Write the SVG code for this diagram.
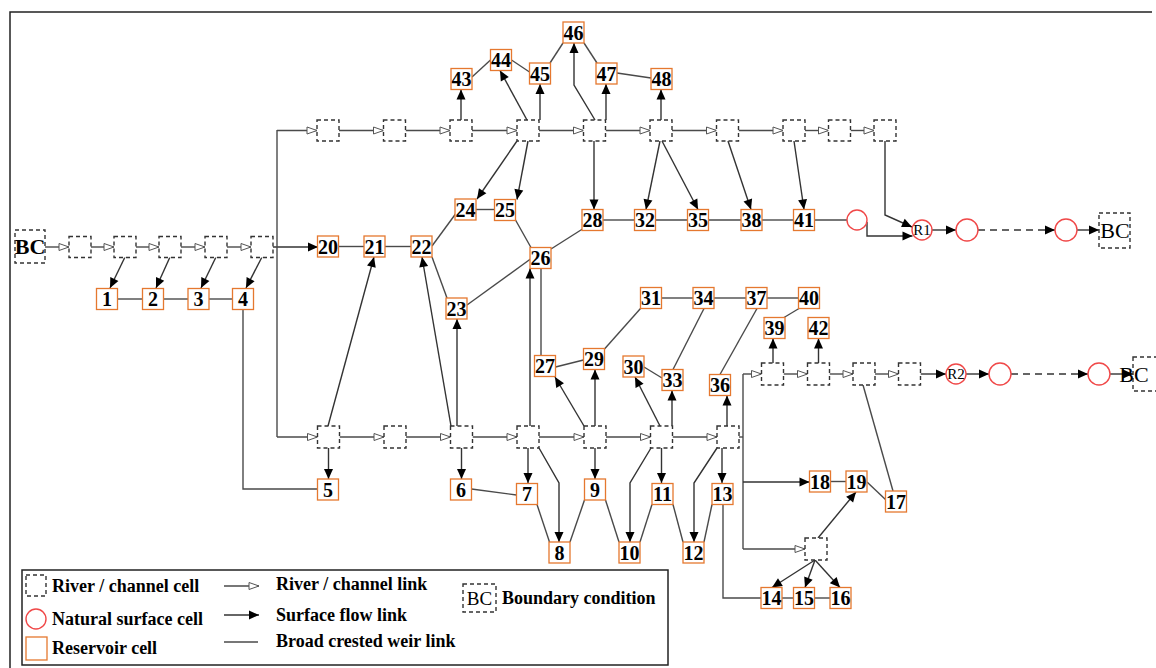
<svg xmlns="http://www.w3.org/2000/svg" width="1156" height="668" viewBox="0 0 1156 668">
<style>
.res rect{fill:#fff;stroke:#E5782F;stroke-width:1.3}
.riv{fill:#fff;stroke:#333;stroke-width:1.4;stroke-dasharray:4 3}
.nat{fill:#fff;stroke:#F04848;stroke-width:1.4}
.lbl{font-family:"Liberation Serif",serif;font-weight:bold;font-size:20px;text-anchor:middle;fill:#000}
.rl{font-family:"Liberation Serif",serif;font-size:15px;text-anchor:middle;fill:#000}
.bc{font-family:"Liberation Serif",serif;font-size:22px;text-anchor:middle;fill:#000}
.leg{font-family:"Liberation Serif",serif;font-weight:bold;font-size:18px;fill:#000}
.ch{stroke:#4a4a4a;stroke-width:1.4;fill:none;marker-end:url(#ha)}
.sf{stroke:#333;stroke-width:1.4;fill:none;marker-end:url(#fa)}
.sfd{stroke:#333;stroke-width:1.4;fill:none;stroke-dasharray:7 5;marker-end:url(#fa)}
.wr{stroke:#4a4a4a;stroke-width:1.4;fill:none}
</style>
<defs>
<marker id="fa" viewBox="0 0 10 10" refX="10" refY="5" markerWidth="11" markerHeight="10" markerUnits="userSpaceOnUse" orient="auto"><path d="M0,0.5 L10,5 L0,9.5 z" fill="#000"/></marker>
<marker id="ha" viewBox="0 0 12 10" refX="11" refY="5" markerWidth="12" markerHeight="10" markerUnits="userSpaceOnUse" orient="auto"><path d="M1,1.5 L11,5 L1,8.5 z" fill="#fff" stroke="#555" stroke-width="1"/></marker>
</defs>
<rect width="1156" height="668" fill="#fff"/>
<path d="M10,668 V12 H1152" fill="none" stroke="#222" stroke-width="1.5"/>

<g id="connectors">
<line class="ch" x1="45" y1="247" x2="69" y2="247"/>
<line class="ch" x1="91" y1="247" x2="114" y2="247"/>
<line class="ch" x1="136" y1="247" x2="159" y2="247"/>
<line class="ch" x1="181" y1="247" x2="205" y2="247"/>
<line class="ch" x1="227" y1="247" x2="251" y2="247"/>
<line class="sf" x1="273" y1="247" x2="318" y2="247"/>
<line class="wr" x1="277" y1="130" x2="277" y2="437"/>
<line class="ch" x1="277" y1="130.5" x2="317" y2="130.5"/>
<line class="ch" x1="277" y1="437" x2="317.5" y2="437"/>
<line class="sf" x1="125" y1="257" x2="110" y2="288"/>
<line class="sf" x1="170" y1="257" x2="156" y2="288"/>
<line class="sf" x1="216" y1="257" x2="201" y2="288"/>
<line class="sf" x1="262" y1="257" x2="246" y2="288"/>
<line class="wr" x1="117.5" y1="299" x2="142.5" y2="299"/>
<line class="wr" x1="163.5" y1="299" x2="188" y2="299"/>
<line class="wr" x1="209" y1="299" x2="232.5" y2="299"/>
<polyline class="wr" points="243,309.5 243,489 317.5,489"/>
<line class="ch" x1="339" y1="130.5" x2="383.5" y2="130.5"/>
<line class="ch" x1="405.5" y1="130.5" x2="450" y2="130.5"/>
<line class="ch" x1="472" y1="130.5" x2="517" y2="130.5"/>
<line class="ch" x1="539" y1="130.5" x2="583.5" y2="130.5"/>
<line class="ch" x1="605.5" y1="130.5" x2="650" y2="130.5"/>
<line class="ch" x1="672" y1="130.5" x2="716.5" y2="130.5"/>
<line class="ch" x1="738.5" y1="130.5" x2="783" y2="130.5"/>
<line class="ch" x1="805" y1="130.5" x2="828.5" y2="130.5"/>
<line class="ch" x1="850.5" y1="130.5" x2="874" y2="130.5"/>
<line class="sf" x1="461" y1="120" x2="461" y2="89.5"/>
<line class="sf" x1="527" y1="120" x2="500" y2="70.5"/>
<line class="sf" x1="540" y1="120" x2="540" y2="84"/>
<polyline class="sf" points="595,120 574,85 574,43"/>
<line class="sf" x1="606" y1="120" x2="606" y2="84"/>
<line class="sf" x1="661" y1="120" x2="661" y2="89.5"/>
<line class="wr" x1="472" y1="77" x2="490.5" y2="60"/>
<line class="wr" x1="511.5" y1="60" x2="529.5" y2="72"/>
<line class="wr" x1="550" y1="63" x2="563" y2="43"/>
<line class="wr" x1="584" y1="43" x2="597" y2="63"/>
<line class="wr" x1="617" y1="73" x2="651" y2="78"/>
<line class="sf" x1="517" y1="141" x2="477" y2="199"/>
<line class="sf" x1="528" y1="141" x2="517" y2="199.5"/>
<line class="sf" x1="594" y1="141" x2="594" y2="209.5"/>
<line class="sf" x1="660" y1="141" x2="646" y2="209.5"/>
<line class="sf" x1="662" y1="141" x2="698" y2="209.5"/>
<line class="sf" x1="728" y1="141" x2="751" y2="209.5"/>
<line class="sf" x1="794" y1="141" x2="804" y2="209.5"/>
<polyline class="sf" points="885,141 885,215 912,227"/>
<line class="wr" x1="603" y1="220" x2="634.5" y2="220"/>
<line class="wr" x1="655.5" y1="220" x2="687.5" y2="220"/>
<line class="wr" x1="708.5" y1="220" x2="741" y2="220"/>
<line class="wr" x1="762" y1="220" x2="793.5" y2="220"/>
<line class="wr" x1="814.5" y1="220" x2="847" y2="220"/>
<polyline class="sf" points="867,222 867,236 912.5,236"/>
<line class="sf" x1="932" y1="230" x2="956" y2="230"/>
<line class="sfd" x1="978" y1="230" x2="1055" y2="230"/>
<line class="sf" x1="1077" y1="230" x2="1099" y2="230"/>
<line class="wr" x1="338.5" y1="246.5" x2="364" y2="246.5"/>
<line class="wr" x1="385" y1="246.5" x2="411" y2="246.5"/>
<line class="wr" x1="476" y1="209.5" x2="494.5" y2="209.5"/>
<line class="wr" x1="432" y1="246" x2="455.5" y2="214"/>
<line class="wr" x1="515.5" y1="220" x2="531" y2="247.5"/>
<line class="wr" x1="551" y1="249" x2="582.5" y2="229"/>
<line class="wr" x1="432" y1="257" x2="447" y2="298"/>
<line class="wr" x1="467" y1="305" x2="530.5" y2="259"/>
<line class="wr" x1="541" y1="268.5" x2="541" y2="355.5"/>
<line class="wr" x1="555.5" y1="367" x2="583.5" y2="360"/>
<line class="wr" x1="604.5" y1="349" x2="640.5" y2="308.5"/>
<line class="wr" x1="661.5" y1="298" x2="693" y2="298"/>
<line class="wr" x1="714" y1="298" x2="746" y2="298"/>
<line class="wr" x1="767" y1="298" x2="798.5" y2="298"/>
<line class="wr" x1="673" y1="369.5" x2="704" y2="308.5"/>
<line class="wr" x1="644" y1="367" x2="662" y2="378"/>
<line class="wr" x1="720" y1="374.5" x2="757" y2="308.5"/>
<line class="wr" x1="799" y1="308.5" x2="784" y2="317.5"/>
<line class="ch" x1="339.5" y1="437" x2="384" y2="437"/>
<line class="ch" x1="406" y1="437" x2="450.5" y2="437"/>
<line class="ch" x1="472.5" y1="437" x2="517" y2="437"/>
<line class="ch" x1="539" y1="437" x2="584" y2="437"/>
<line class="ch" x1="606" y1="437" x2="650.5" y2="437"/>
<line class="ch" x1="672.5" y1="437" x2="717" y2="437"/>
<line class="sf" x1="328" y1="426" x2="374" y2="257"/>
<line class="sf" x1="451" y1="426" x2="422" y2="257"/>
<line class="sf" x1="457" y1="426" x2="457" y2="319"/>
<line class="sf" x1="530" y1="426" x2="530" y2="268.5"/>
<line class="sf" x1="584" y1="426" x2="555" y2="377"/>
<line class="sf" x1="595" y1="426" x2="595" y2="369.5"/>
<line class="sf" x1="660" y1="426" x2="635" y2="377"/>
<line class="sf" x1="672" y1="426" x2="672" y2="390.5"/>
<line class="sf" x1="727" y1="426" x2="727" y2="395.5"/>
<line class="sf" x1="328.5" y1="448" x2="328.5" y2="479"/>
<line class="sf" x1="461.5" y1="448" x2="461.5" y2="479"/>
<line class="sf" x1="528" y1="448" x2="528" y2="483"/>
<line class="sf" x1="595" y1="448" x2="595" y2="479"/>
<line class="sf" x1="661.5" y1="448" x2="661.5" y2="483"/>
<line class="sf" x1="722" y1="448" x2="722" y2="483"/>
<polyline class="sf" points="539,448 559,483 559,542"/>
<polyline class="sf" points="651,448 630,483 630,542"/>
<polyline class="sf" points="717,448 694,483 694,542"/>
<line class="wr" x1="471.5" y1="489" x2="516.5" y2="495"/>
<line class="wr" x1="537" y1="504.5" x2="549.5" y2="542"/>
<line class="wr" x1="570" y1="542" x2="584.5" y2="500"/>
<line class="wr" x1="605.5" y1="500" x2="619" y2="542"/>
<line class="wr" x1="640" y1="542" x2="652" y2="504.5"/>
<line class="wr" x1="673" y1="504.5" x2="683" y2="542"/>
<line class="wr" x1="704" y1="542" x2="712" y2="504.5"/>
<polyline class="wr" points="723,504.5 723,598 761,598"/>
<line class="wr" x1="739" y1="437" x2="743" y2="437"/>
<line class="wr" x1="743" y1="374" x2="743" y2="549"/>
<line class="ch" x1="743" y1="374" x2="761.5" y2="374"/>
<line class="sf" x1="743" y1="482" x2="809.5" y2="482"/>
<line class="ch" x1="743" y1="549" x2="805" y2="549"/>
<line class="ch" x1="783.5" y1="374" x2="807.5" y2="374"/>
<line class="ch" x1="829.5" y1="374" x2="853" y2="374"/>
<line class="ch" x1="875" y1="374" x2="898.5" y2="374"/>
<line class="sf" x1="773" y1="363" x2="773" y2="338.5"/>
<line class="sf" x1="818.5" y1="363" x2="818.5" y2="338.5"/>
<line class="wr" x1="863" y1="385" x2="893" y2="491"/>
<line class="sf" x1="920.5" y1="374" x2="946" y2="374"/>
<line class="sf" x1="966" y1="374" x2="989" y2="374"/>
<line class="sfd" x1="1011" y1="374" x2="1088" y2="374"/>
<line class="sf" x1="1110" y1="374" x2="1133" y2="374"/>
<line class="wr" x1="830.5" y1="481.5" x2="846" y2="481.5"/>
<line class="wr" x1="867" y1="482" x2="886" y2="500"/>
<line class="sf" x1="818" y1="538" x2="856" y2="492"/>
<line class="sf" x1="815" y1="560" x2="772" y2="587.5"/>
<line class="sf" x1="815" y1="560" x2="805" y2="587.5"/>
<line class="sf" x1="815" y1="560" x2="840" y2="587.5"/>
<line class="wr" x1="782" y1="598" x2="793.5" y2="598"/>
<line class="wr" x1="814.5" y1="598" x2="830" y2="598"/>
</g>

<g id="bc_left"><rect class="riv" x="15" y="230" width="30" height="33"/><text class="bc" x="30" y="254" font-weight="bold">BC</text></g>
<g id="bc_r1"><rect class="riv" x="1099" y="213" width="31" height="35"/><text class="bc" x="1115" y="238">BC</text></g>
<g id="bc_r2"><rect class="riv" x="1133" y="357" width="31" height="34"/><text class="bc" x="1134" y="382" text-anchor="start">BC</text></g>

<g id="rc_a1"><rect class="riv" x="69" y="236.5" width="22" height="21"/></g>
<g id="rc_a2"><rect class="riv" x="114" y="236.5" width="22" height="21"/></g>
<g id="rc_a3"><rect class="riv" x="159" y="236.5" width="22" height="21"/></g>
<g id="rc_a4"><rect class="riv" x="205" y="236.5" width="22" height="21"/></g>
<g id="rc_a5"><rect class="riv" x="251" y="236.5" width="22" height="21"/></g>
<g id="rc_t1"><rect class="riv" x="317" y="120" width="22" height="21"/></g>
<g id="rc_t2"><rect class="riv" x="383.5" y="120" width="22" height="21"/></g>
<g id="rc_t3"><rect class="riv" x="450" y="120" width="22" height="21"/></g>
<g id="rc_t4"><rect class="riv" x="517" y="120" width="22" height="21"/></g>
<g id="rc_t5"><rect class="riv" x="583.5" y="120" width="22" height="21"/></g>
<g id="rc_t6"><rect class="riv" x="650" y="120" width="22" height="21"/></g>
<g id="rc_t7"><rect class="riv" x="716.5" y="120" width="22" height="21"/></g>
<g id="rc_t8"><rect class="riv" x="783" y="120" width="22" height="21"/></g>
<g id="rc_t9"><rect class="riv" x="828.5" y="120" width="22" height="21"/></g>
<g id="rc_t10"><rect class="riv" x="874" y="120" width="22" height="21"/></g>
<g id="rc_b1"><rect class="riv" x="317.5" y="426" width="22" height="22"/></g>
<g id="rc_b2"><rect class="riv" x="384" y="426" width="22" height="22"/></g>
<g id="rc_b3"><rect class="riv" x="450.5" y="426" width="22" height="22"/></g>
<g id="rc_b4"><rect class="riv" x="517" y="426" width="22" height="22"/></g>
<g id="rc_b5"><rect class="riv" x="584" y="426" width="22" height="22"/></g>
<g id="rc_b6"><rect class="riv" x="650.5" y="426" width="22" height="22"/></g>
<g id="rc_b7"><rect class="riv" x="717" y="426" width="22" height="22"/></g>
<g id="rc_r1"><rect class="riv" x="761.5" y="363" width="22" height="22"/></g>
<g id="rc_r2"><rect class="riv" x="807.5" y="363" width="22" height="22"/></g>
<g id="rc_r3"><rect class="riv" x="853" y="363" width="22" height="22"/></g>
<g id="rc_r4"><rect class="riv" x="898.5" y="363" width="22" height="22"/></g>
<g id="rc_s1"><rect class="riv" x="805" y="538" width="22" height="22"/></g>

<g id="ns_1"><circle class="nat" cx="857" cy="220" r="10"/></g>
<g id="ns_R1"><circle class="nat" cx="922" cy="230" r="10"/><text class="rl" x="922" y="235">R1</text></g>
<g id="ns_2"><circle class="nat" cx="967" cy="230" r="11"/></g>
<g id="ns_3"><circle class="nat" cx="1066" cy="230" r="11"/></g>
<g id="ns_R2"><circle class="nat" cx="956" cy="374" r="10"/><text class="rl" x="956" y="379">R2</text></g>
<g id="ns_4"><circle class="nat" cx="1000" cy="374" r="11"/></g>
<g id="ns_5"><circle class="nat" cx="1099" cy="374" r="11"/></g>

<g id="r1" class="res"><rect x="96.5" y="288.5" width="21" height="21"/><text class="lbl" x="107" y="306">1</text></g>
<g id="r2" class="res"><rect x="142.5" y="288.5" width="21" height="21"/><text class="lbl" x="153" y="306">2</text></g>
<g id="r3" class="res"><rect x="188" y="288.5" width="21" height="21"/><text class="lbl" x="198.5" y="306">3</text></g>
<g id="r4" class="res"><rect x="232.5" y="288.5" width="21" height="21"/><text class="lbl" x="243" y="306">4</text></g>
<g id="r5" class="res"><rect x="317.5" y="479" width="21" height="21"/><text class="lbl" x="328" y="496.5">5</text></g>
<g id="r6" class="res"><rect x="450.5" y="479" width="21" height="21"/><text class="lbl" x="461" y="496.5">6</text></g>
<g id="r7" class="res"><rect x="516.5" y="483.5" width="21" height="21"/><text class="lbl" x="527" y="501">7</text></g>
<g id="r8" class="res"><rect x="549" y="542" width="21" height="21"/><text class="lbl" x="559.5" y="559.5">8</text></g>
<g id="r9" class="res"><rect x="584.5" y="479" width="21" height="21"/><text class="lbl" x="595" y="496.5">9</text></g>
<g id="r10" class="res"><rect x="619" y="542" width="21" height="21"/><text class="lbl" x="629.5" y="559.5">10</text></g>
<g id="r11" class="res"><rect x="652" y="483.5" width="21" height="21"/><text class="lbl" x="662.5" y="501">11</text></g>
<g id="r12" class="res"><rect x="683" y="542" width="21" height="21"/><text class="lbl" x="693.5" y="559.5">12</text></g>
<g id="r13" class="res"><rect x="712" y="483.5" width="21" height="21"/><text class="lbl" x="722.5" y="501">13</text></g>
<g id="r14" class="res"><rect x="761" y="587.5" width="21" height="21"/><text class="lbl" x="771.5" y="605">14</text></g>
<g id="r15" class="res"><rect x="793.5" y="587.5" width="21" height="21"/><text class="lbl" x="804" y="605">15</text></g>
<g id="r16" class="res"><rect x="830" y="587.5" width="21" height="21"/><text class="lbl" x="840.5" y="605">16</text></g>
<g id="r17" class="res"><rect x="885.5" y="491" width="21" height="21"/><text class="lbl" x="896" y="508.5">17</text></g>
<g id="r18" class="res"><rect x="809.5" y="471" width="21" height="21"/><text class="lbl" x="820" y="488.5">18</text></g>
<g id="r19" class="res"><rect x="846" y="471" width="21" height="21"/><text class="lbl" x="856.5" y="488.5">19</text></g>
<g id="r20" class="res"><rect x="317.5" y="236" width="21" height="21"/><text class="lbl" x="328" y="253.5">20</text></g>
<g id="r21" class="res"><rect x="364" y="236" width="21" height="21"/><text class="lbl" x="374.5" y="253.5">21</text></g>
<g id="r22" class="res"><rect x="411" y="236" width="21" height="21"/><text class="lbl" x="421.5" y="253.5">22</text></g>
<g id="r23" class="res"><rect x="446" y="298" width="21" height="21"/><text class="lbl" x="456.5" y="315.5">23</text></g>
<g id="r24" class="res"><rect x="455" y="199" width="21" height="21"/><text class="lbl" x="465.5" y="216.5">24</text></g>
<g id="r25" class="res"><rect x="494.5" y="199.5" width="21" height="21"/><text class="lbl" x="505" y="217">25</text></g>
<g id="r26" class="res"><rect x="530" y="247.5" width="21" height="21"/><text class="lbl" x="540.5" y="265">26</text></g>
<g id="r27" class="res"><rect x="534.5" y="355.5" width="21" height="21"/><text class="lbl" x="545" y="373">27</text></g>
<g id="r28" class="res"><rect x="582" y="209.5" width="21" height="21"/><text class="lbl" x="592.5" y="227">28</text></g>
<g id="r29" class="res"><rect x="583.5" y="348.5" width="21" height="21"/><text class="lbl" x="594" y="366">29</text></g>
<g id="r30" class="res"><rect x="623" y="356" width="21" height="21"/><text class="lbl" x="633.5" y="373.5">30</text></g>
<g id="r31" class="res"><rect x="640.5" y="287.5" width="21" height="21"/><text class="lbl" x="651" y="305">31</text></g>
<g id="r32" class="res"><rect x="634.5" y="209.5" width="21" height="21"/><text class="lbl" x="645" y="227">32</text></g>
<g id="r33" class="res"><rect x="662" y="369.5" width="21" height="21"/><text class="lbl" x="672.5" y="387">33</text></g>
<g id="r34" class="res"><rect x="693" y="287.5" width="21" height="21"/><text class="lbl" x="703.5" y="305">34</text></g>
<g id="r35" class="res"><rect x="687.5" y="209.5" width="21" height="21"/><text class="lbl" x="698" y="227">35</text></g>
<g id="r36" class="res"><rect x="709.5" y="374.5" width="21" height="21"/><text class="lbl" x="720" y="392">36</text></g>
<g id="r37" class="res"><rect x="746" y="287.5" width="21" height="21"/><text class="lbl" x="756.5" y="305">37</text></g>
<g id="r38" class="res"><rect x="741" y="209.5" width="21" height="21"/><text class="lbl" x="751.5" y="227">38</text></g>
<g id="r39" class="res"><rect x="764" y="317.5" width="21" height="21"/><text class="lbl" x="774.5" y="335">39</text></g>
<g id="r40" class="res"><rect x="798.5" y="287.5" width="21" height="21"/><text class="lbl" x="809" y="305">40</text></g>
<g id="r41" class="res"><rect x="793.5" y="209.5" width="21" height="21"/><text class="lbl" x="804" y="227">41</text></g>
<g id="r42" class="res"><rect x="808" y="317.5" width="21" height="21"/><text class="lbl" x="818.5" y="335">42</text></g>
<g id="r43" class="res"><rect x="451" y="68.5" width="21" height="21"/><text class="lbl" x="461.5" y="86">43</text></g>
<g id="r44" class="res"><rect x="490.5" y="49.5" width="21" height="21"/><text class="lbl" x="501" y="67">44</text></g>
<g id="r45" class="res"><rect x="529.5" y="63" width="21" height="21"/><text class="lbl" x="540" y="80.5">45</text></g>
<g id="r46" class="res"><rect x="563" y="22" width="21" height="21"/><text class="lbl" x="573.5" y="39.5">46</text></g>
<g id="r47" class="res"><rect x="596" y="63" width="21" height="21"/><text class="lbl" x="606.5" y="80.5">47</text></g>
<g id="r48" class="res"><rect x="651" y="68.5" width="21" height="21"/><text class="lbl" x="661.5" y="86">48</text></g>

<g id="legend">
<rect x="22" y="570" width="646" height="95" fill="none" stroke="#222" stroke-width="1.5"/>
<rect class="riv" x="26" y="575" width="20" height="21"/>
<text class="leg" x="52" y="592">River / channel cell</text>
<circle class="nat" cx="36" cy="619" r="10"/>
<text class="leg" x="52" y="625">Natural surface cell</text>
<rect x="26" y="637" width="21" height="23" fill="#fff" stroke="#E5782F" stroke-width="1.3"/>
<text class="leg" x="52" y="654">Reservoir cell</text>
<line class="ch" x1="224" y1="586" x2="259" y2="586"/>
<text class="leg" x="276" y="590">River / channel link</text>
<line class="sf" x1="224" y1="615" x2="259" y2="615"/>
<text class="leg" x="276" y="621">Surface flow link</text>
<line class="wr" x1="224" y1="642" x2="258" y2="642"/>
<text class="leg" x="276" y="647">Broad crested weir link</text>
<rect class="riv" x="463" y="584" width="33" height="28"/>
<text x="479.5" y="605" font-family="Liberation Serif, serif" font-size="19" text-anchor="middle">BC</text>
<text class="leg" x="502" y="604">Boundary condition</text>
</g>
</svg>
